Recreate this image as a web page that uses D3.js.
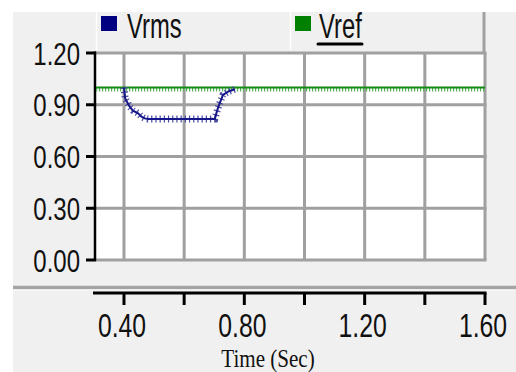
<!DOCTYPE html>
<html>
<head>
<meta charset="utf-8">
<script src="https://cdn.jsdelivr.net/npm/d3@7"></script>
<style>
  html, body { margin: 0; padding: 0; background: #fff; }
  svg { display: block; }
</style>
</head>
<body>
<svg id="chart" width="516" height="372"></svg>
<script>
// data
const vrmsTime = [0.400, 0.404, 0.419, 0.430, 0.447, 0.458, 0.469, 0.480, 0.560, 0.640, 0.702, 0.707, 0.712, 0.718, 0.729, 0.746, 0.768];
const vrmsVal  = [1.000, 0.937, 0.889, 0.866, 0.850, 0.831, 0.821, 0.818, 0.818, 0.818, 0.818, 0.850, 0.879, 0.908, 0.957, 0.976, 0.990];
const vrefTime = [0.307, 1.600];
const vrefVal  = [1.000, 1.000];
const yTicks = [0, 0.3, 0.6, 0.9, 1.2];
const xGrid = [0.4, 0.6, 0.8, 1.0, 1.2, 1.4, 1.6];
const xLabels = [0.4, 0.8, 1.2, 1.6];
const series = [
  { name: 'Vrms', color: '#000080' },
  { name: 'Vref', color: '#008000' },
];

const svg = d3.select('#chart');
const plot = { left: 96, right: 485, top: 53, bottom: 260 };

const x = d3.scaleLinear().domain([0.307, 1.6]).range([plot.left, plot.right]);
const y = d3.scaleLinear().domain([0, 1.2]).range([plot.bottom, plot.top]);

// backgrounds
svg.append('rect').attr('x', 13).attr('y', 12).attr('width', 503).attr('height', 360).attr('fill', '#f0f0f0');
svg.append('rect')
  .attr('x', plot.left).attr('y', plot.top)
  .attr('width', plot.right - plot.left).attr('height', plot.bottom - plot.top)
  .attr('fill', '#fff');

// legend panel separators
[96.5, 290.5].forEach((lx) => {
  svg.append('line').attr('x1', lx).attr('x2', lx).attr('y1', 12).attr('y2', 50)
    .attr('stroke', '#fff').attr('stroke-width', 1.5);
});
svg.append('line').attr('x1', 484).attr('x2', 484).attr('y1', 12).attr('y2', 53)
  .attr('stroke', '#a0a0a0').attr('stroke-width', 3);

// grid
const grid = svg.append('g').attr('stroke', '#a0a0a0').attr('stroke-width', 3);
grid.selectAll('line.h')
  .data(yTicks)
  .enter()
  .append('line')
  .attr('x1', plot.left).attr('x2', plot.right + 1.5)
  .attr('y1', d => y(d)).attr('y2', d => y(d));
grid.selectAll('line.v')
  .data(xGrid)
  .enter()
  .append('line')
  .attr('x1', d => x(d)).attr('x2', d => x(d))
  .attr('y1', plot.top).attr('y2', plot.bottom);

// y axis
svg.append('line').attr('x1', 95).attr('x2', 95).attr('y1', plot.top - 1.5).attr('y2', plot.bottom + 1)
  .attr('stroke', '#000').attr('stroke-width', 2.5);
const yAxis = svg.append('g');
yAxis.selectAll('line')
  .data(yTicks)
  .enter()
  .append('line')
  .attr('x1', 86).attr('x2', 96)
  .attr('y1', d => y(d)).attr('y2', d => y(d))
  .attr('stroke', '#000').attr('stroke-width', 3);
yAxis.selectAll('text')
  .data(yTicks)
  .enter()
  .append('text')
  .attr('transform', d => `translate(80,${y(d) + 11.5}) scale(0.75,1)`)
  .attr('text-anchor', 'end')
  .attr('font-family', 'Liberation Sans, Arial, sans-serif')
  .attr('font-size', 32)
  .attr('fill', '#111')
  .text(d => d.toFixed(2));

// bottom separator and x axis
svg.append('line').attr('x1', 13).attr('x2', 516).attr('y1', 287.5).attr('y2', 287.5)
  .attr('stroke', '#a4a4a4').attr('stroke-width', 3.5);
svg.append('line').attr('x1', 13).attr('x2', 516).attr('y1', 290).attr('y2', 290)
  .attr('stroke', '#fafafa').attr('stroke-width', 1);
svg.append('line').attr('x1', 93).attr('x2', plot.right + 1.5).attr('y1', 293).attr('y2', 293)
  .attr('stroke', '#000').attr('stroke-width', 3);
const xAxis = svg.append('g');
xAxis.selectAll('line')
  .data(xGrid)
  .enter()
  .append('line')
  .attr('x1', d => x(d)).attr('x2', d => x(d))
  .attr('y1', 293).attr('y2', 305)
  .attr('stroke', '#000').attr('stroke-width', 3);
xAxis.selectAll('text')
  .data(xLabels)
  .enter()
  .append('text')
  .attr('transform', d => `translate(${x(d) - 2},337) scale(0.75,1)`)
  .attr('text-anchor', 'middle')
  .attr('font-family', 'Liberation Sans, Arial, sans-serif')
  .attr('font-size', 33)
  .attr('fill', '#111')
  .text(d => d.toFixed(2));
svg.append('text')
  .attr('transform', 'translate(268,367) scale(0.81,1)')
  .attr('text-anchor', 'middle')
  .attr('font-family', 'Liberation Serif, Times New Roman, serif')
  .attr('font-size', 26)
  .attr('fill', '#111')
  .text('Time (Sec)');

// lines
const line = d3.line().x(d => x(d[0])).y(d => y(d[1]));
const vref = d3.zip(vrefTime, vrefVal);
const vrms = d3.zip(vrmsTime, vrmsVal);

svg.append('path').datum(vref)
  .attr('d', line)
  .attr('transform', 'translate(0,2)')
  .attr('fill', 'none')
  .attr('stroke', '#58b458')
  .attr('stroke-width', 4)
  .attr('stroke-dasharray', '1.2,1.8');
svg.append('path').datum(vref)
  .attr('d', line)
  .attr('fill', 'none')
  .attr('stroke', '#138a13')
  .attr('stroke-width', 2);

svg.append('path').datum(vrms)
  .attr('d', line)
  .attr('fill', 'none')
  .attr('stroke', '#4a4aa2')
  .attr('stroke-width', 7)
  .attr('stroke-dasharray', '1.2,3');
svg.append('path').datum(vrms)
  .attr('d', line)
  .attr('fill', 'none')
  .attr('stroke', '#16168a')
  .attr('stroke-width', 2);

// legend
const legend = svg.append('g');
const legendX = [101, 295];
const textX = [127, 319];
legend.selectAll('rect')
  .data(series)
  .enter()
  .append('rect')
  .attr('x', (d, i) => legendX[i]).attr('y', 16)
  .attr('width', 16).attr('height', 15)
  .attr('fill', d => d.color);
legend.selectAll('text')
  .data(series)
  .enter()
  .append('text')
  .attr('transform', (d, i) => `translate(${textX[i]},38) scale(0.68,1)`)
  .attr('font-family', 'Liberation Sans, Arial, sans-serif')
  .attr('font-size', 35)
  .attr('fill', '#111')
  .text(d => d.name);
// underline under the selected legend entry
svg.append('line').attr('x1', 318).attr('x2', 362).attr('y1', 44).attr('y2', 44)
  .attr('stroke', '#000').attr('stroke-width', 3).attr('stroke-linecap', 'round');
</script>
</body>
</html>
